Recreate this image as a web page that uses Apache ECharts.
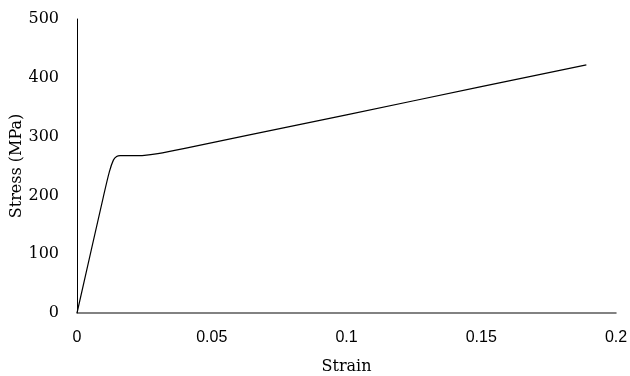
<!DOCTYPE html>
<html><head><meta charset="utf-8">
<script src="https://cdn.jsdelivr.net/npm/echarts@6/dist/echarts.min.js"></script>
<style>html,body{margin:0;padding:0;background:#fff}#c{width:630px;height:376px}</style>
</head><body><div id="c"></div>
<script>
const strain = [0, 0.0098, 0.012, 0.0135, 0.0147, 0.016, 0.02, 0.025, 0.03, 0.04, 0.064, 0.1, 0.15, 0.189];
const stress = [0, 198, 240, 260, 266, 267.5, 267.5, 268, 271, 280, 303, 337, 385, 422];
const xTicks = [0, 0.05, 0.1, 0.15, 0.2];
const yTicks = [0, 100, 200, 300, 400, 500];
const chart = echarts.init(document.getElementById('c'));
chart.setOption({
  animation: false,
  grid: {left: 77, right: 14, top: 19, bottom: 63, containLabel: false, outerBoundsMode: 'none'},
  xAxis: {
    type: 'value', min: 0, max: 0.2, interval: 0.05,
    name: 'Strain', nameLocation: 'middle', nameGap: 46, nameMoveOverlap: false,
    nameTextStyle: {fontFamily: 'DejaVu Serif', fontSize: 16, color: '#000'},
    axisLine: {lineStyle: {color: '#595959', width: 1.5}},
    axisTick: {show: false}, splitLine: {show: false},
    axisLabel: {fontFamily: 'Liberation Sans', fontSize: 16, color: '#000', margin: 17,
      formatter: v => String(+v.toFixed(2))}
  },
  yAxis: {
    type: 'value', min: 0, max: 500, interval: 100,
    name: 'Stress (MPa)', nameLocation: 'middle', nameGap: 52, nameMoveOverlap: false,
    nameTextStyle: {fontFamily: 'DejaVu Serif', fontSize: 16, color: '#000'},
    axisLine: {show: true, lineStyle: {color: '#000', width: 1}},
    axisTick: {show: false}, splitLine: {show: false},
    axisLabel: {fontFamily: 'DejaVu Serif', fontSize: 16, color: '#000', margin: 18}
  },
  series: [{
    type: 'line', showSymbol: false, smooth: 0.25,
    data: strain.map((s, i) => [s, stress[i]]),
    lineStyle: {color: '#000', width: 1.2}
  }]
});
</script></body></html>
